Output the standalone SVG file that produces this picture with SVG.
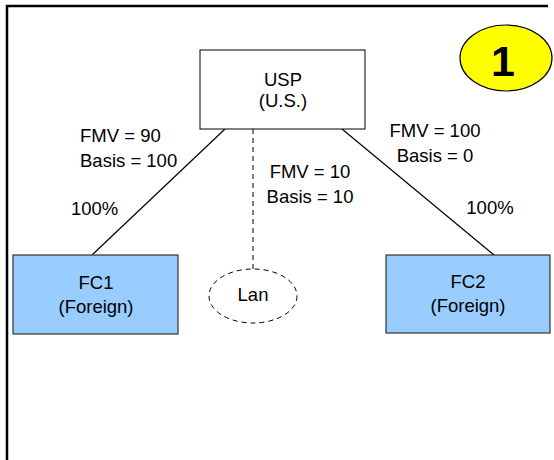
<svg xmlns="http://www.w3.org/2000/svg" width="554" height="460" viewBox="0 0 554 460">
<style>
text{font-family:"Liberation Sans",Arial,sans-serif;font-size:18.5px;fill:#000;text-anchor:middle}
.lbl{text-anchor:start}
.box{fill:#fff;stroke:#000;stroke-width:1}
.fc{fill:#99CCFF;stroke:#333;stroke-width:1.2}
.dash{fill:none;stroke:#000;stroke-width:1;stroke-dasharray:5,4}
.conn{stroke:#000;stroke-width:1.2;fill:none}
</style>
<rect width="554" height="460" fill="#fff"/>
<path d="M7,460 V6 H548" fill="none" stroke="#000" stroke-width="2.5"/>
<g id="connectors">
<line class="conn" x1="225" y1="129" x2="92" y2="255"/>
<line class="conn" x1="342" y1="129" x2="494" y2="255"/>
<line class="dash" x1="253" y1="129" x2="253" y2="269"/>
</g>
<g id="labels">
<text class="lbl" x="80" y="142">FMV = 90</text>
<text class="lbl" x="80" y="167">Basis = 100</text>
<text class="lbl" x="71" y="215">100%</text>
<text x="310" y="178">FMV = 10</text>
<text x="310" y="203">Basis = 10</text>
<text x="435" y="137">FMV = 100</text>
<text x="435" y="162">Basis = 0</text>
<text x="490" y="214">100%</text>
</g>
<g id="usp">
<rect class="box" x="200" y="50" width="165" height="79"/>
<text x="283" y="86">USP</text>
<text x="283" y="107">(U.S.)</text>
</g>
<g id="fc1">
<rect class="fc" x="13" y="255" width="165" height="79"/>
<text x="96" y="289">FC1</text>
<text x="96" y="313">(Foreign)</text>
</g>
<g id="fc2">
<rect class="fc" x="386" y="255" width="164" height="78"/>
<text x="468" y="288">FC2</text>
<text x="468" y="312">(Foreign)</text>
</g>
<g id="lan">
<ellipse class="dash" cx="253" cy="296" rx="44" ry="27"/>
<text x="253" y="301">Lan</text>
</g>
<g id="badge">
<ellipse cx="506" cy="58" rx="46" ry="33" fill="#FFFF00" stroke="#000" stroke-width="1.2"/>
<text x="503" y="76" style="font-size:43px;font-weight:bold">1</text>
</g>
</svg>
